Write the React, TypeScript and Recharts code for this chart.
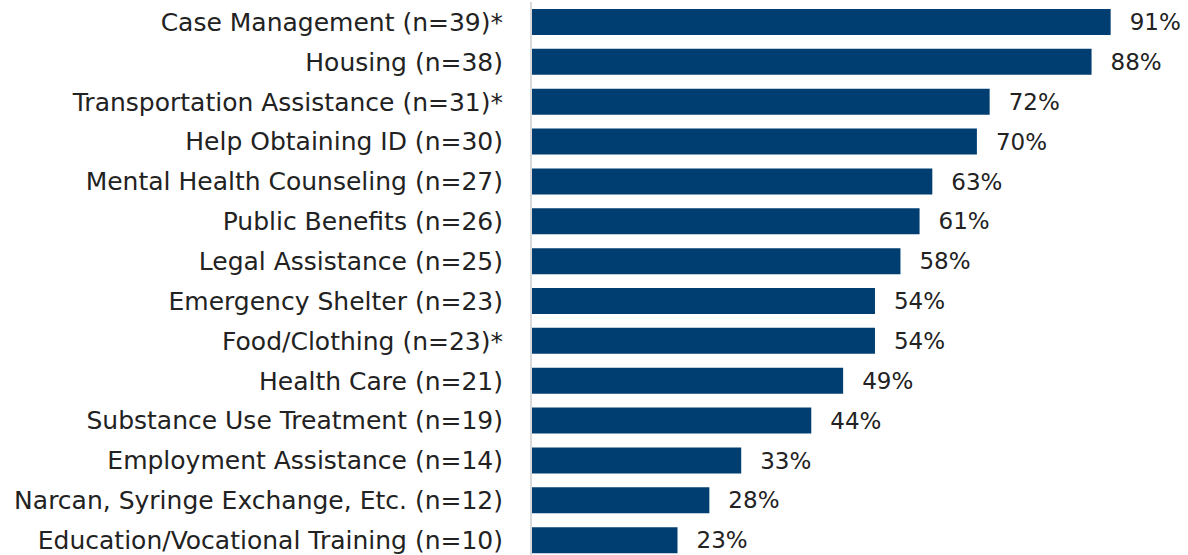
import { BarChart, Bar, XAxis, YAxis, LabelList } from "recharts";

const categories = [
  "Case Management (n=39)*",
  "Housing (n=38)",
  "Transportation Assistance (n=31)*",
  "Help Obtaining ID (n=30)",
  "Mental Health Counseling (n=27)",
  "Public Benefits (n=26)",
  "Legal Assistance (n=25)",
  "Emergency Shelter (n=23)",
  "Food/Clothing (n=23)*",
  "Health Care (n=21)",
  "Substance Use Treatment (n=19)",
  "Employment Assistance (n=14)",
  "Narcan, Syringe Exchange, Etc. (n=12)",
  "Education/Vocational Training (n=10)",
];

const percents = [91, 88, 72, 70, 63, 61, 58, 54, 54, 49, 44, 33, 28, 23];

const data = categories.map((name, i) => ({ name, value: percents[i] }));

const FONT = "'DejaVu Sans', sans-serif";

export default function App() {
  return (
    <div style={{ position: "absolute", left: 0, top: 0 }}>
      <BarChart
        width={1188}
        height={560}
        data={data}
        layout="vertical"
        margin={{ top: 2, right: 20, bottom: 0, left: 0 }}
        barCategoryGap={14}
      >
        <XAxis type="number" domain={[0, 100]} hide />
        <YAxis
          type="category"
          dataKey="name"
          width={531}
          axisLine={{ stroke: "#d9d9d9", strokeWidth: 2 }}
          tickLine={false}
          tickSize={0}
          tickMargin={28}
          interval={0}
          tick={{ fill: "#222222", fontSize: 25, fontFamily: FONT }}
        />
        <Bar dataKey="value" fill="#003e71" barSize={26} isAnimationActive={false}>
          <LabelList
            dataKey="value"
            position="right"
            offset={19}
            formatter={(v: number) => `${v}%`}
            style={{ fill: "#222222", fontSize: 23, fontFamily: FONT }}
          />
        </Bar>
      </BarChart>
    </div>
  );
}
